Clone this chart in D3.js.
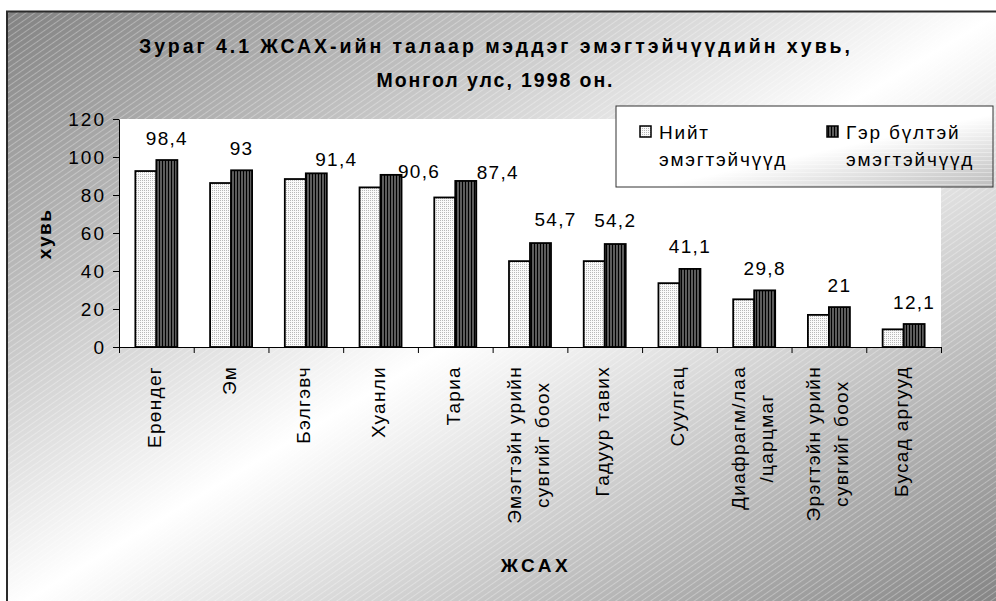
<!DOCTYPE html>
<html lang="mn">
<head>
<meta charset="utf-8">
<title>ЖСАХ-ийн талаар мэддэг эмэгтэйчүүд</title>
<script src="https://cdn.jsdelivr.net/npm/d3@7"></script>
<style>
  body { margin: 0; background: #fff; }
  svg { display: block; font-family: "Liberation Sans", Arial, sans-serif; }
</style>
</head>
<body>
<div id="chart"></div>
<script>
// data
const categories = [
  ['Ерөндег'], ['Эм'], ['Бэлгэвч'], ['Хуанли'], ['Тариа'],
  ['Эмэгтэйн урийн', 'сувгийг боох'], ['Гадуур тавих'], ['Суулгац'],
  ['Диафрагм/лаа', '/царцмаг'], ['Эрэгтэйн урийн', 'сувгийг боох'], ['Бусад аргууд']
];
const totalWomen = [92.6, 86.3, 88.4, 84.0, 78.7, 45.2, 45.2, 33.6, 25.1, 16.9, 9.3];
const marriedWomen = [98.4, 93, 91.4, 90.6, 87.4, 54.7, 54.2, 41.1, 29.8, 21, 12.1];
const seriesNames = [['Нийт', 'эмэгтэйчүүд'], ['Гэр бүлтэй', 'эмэгтэйчүүд']];
const yTicks = [0, 20, 40, 60, 80, 100, 120];
const titleLines = ['Зураг 4.1 ЖСАХ-ийн талаар мэддэг эмэгтэйчүүдийн хувь,', 'Монгол улс, 1998 он.'];
const yTitle = 'хувь';
const xTitle = 'ЖСАХ';

// hand-moved value labels in the original (dx, dy in px)
const labelNudge = [[0, 0], [0, 0], [20, 8], [28, 19], [32, 14], [15, -2], [0, -2], [0, 0], [0, 0], [0, 0], [0, 0]];

const fmt = (v) => String(v).replace('.', ',');

class GroupedBarChart {
  constructor (width, height, domContainer) {
    this.width = width;
    this.height = height;
    this.domContainer = domContainer;
    this.plot = { left: 119, right: 941, top: 119, bottom: 347 };
    this.barWidth = 21;
    this.fontSize = '19px';
    this._svg;
    this.x;
    this.y;
  }

  _buildContainer() {
    this._svg = d3.select(this.domContainer)
                  .append('svg')
                  .attr('width', this.width)
                  .attr('height', this.height);
  }

  _buildDefs() {
    const defs = this._svg.append('defs');

    const bg = defs.append('linearGradient')
                   .attr('id', 'bgGrad')
                   .attr('x1', 0).attr('y1', 0)
                   .attr('x2', 1).attr('y2', 1);
    bg.append('stop').attr('offset', 0).attr('stop-color', '#828282');
    bg.append('stop').attr('offset', 0.5).attr('stop-color', '#ffffff');
    bg.append('stop').attr('offset', 1).attr('stop-color', '#828282');

    const stripes = defs.append('pattern')
                        .attr('id', 'bgStripes')
                        .attr('patternUnits', 'userSpaceOnUse')
                        .attr('width', 5).attr('height', 5)
                        .attr('patternTransform', 'rotate(55)');
    stripes.append('line')
           .attr('x1', 0.5).attr('y1', 0)
           .attr('x2', 0.5).attr('y2', 5)
           .attr('stroke', '#fff')
           .attr('stroke-opacity', 0.3)
           .attr('stroke-width', 1);

    const lg = defs.append('linearGradient')
                   .attr('id', 'legendGrad')
                   .attr('x1', 0).attr('y1', 0)
                   .attr('x2', 1).attr('y2', 1);
    lg.append('stop').attr('offset', 0).attr('stop-color', '#ffffff');
    lg.append('stop').attr('offset', 0.55).attr('stop-color', '#ffffff');
    lg.append('stop').attr('offset', 1).attr('stop-color', '#bdbdbd');

    const hStripes = defs.append('pattern')
                         .attr('id', 'legendStripes')
                         .attr('patternUnits', 'userSpaceOnUse')
                         .attr('width', 6).attr('height', 4);
    hStripes.append('rect')
            .attr('width', 6).attr('height', 1)
            .attr('fill', '#fff')
            .attr('fill-opacity', 0.35);

    const dots = defs.append('pattern')
                     .attr('id', 'dots')
                     .attr('patternUnits', 'userSpaceOnUse')
                     .attr('width', 2).attr('height', 2);
    dots.append('rect').attr('width', 2).attr('height', 2).attr('fill', '#fafafa');
    dots.append('rect').attr('width', 1).attr('height', 1).attr('fill', '#b8b8b8');

    const vlines = defs.append('pattern')
                       .attr('id', 'vlines')
                       .attr('patternUnits', 'userSpaceOnUse')
                       .attr('width', 3).attr('height', 3);
    vlines.append('rect').attr('width', 3).attr('height', 3).attr('fill', '#5c5c5c');
    vlines.append('rect').attr('width', 1).attr('height', 3).attr('fill', '#000');
  }

  _buildFrame() {
    this._svg.append('rect')
             .attr('x', 7).attr('y', 11)
             .attr('width', this.width).attr('height', this.height)
             .attr('fill', 'url(#bgGrad)');
    this._svg.append('rect')
             .attr('x', 7).attr('y', 11)
             .attr('width', this.width).attr('height', this.height)
             .attr('fill', 'url(#bgStripes)');
    this._svg.append('path')
             .attr('d', `M7,${this.height} V11.5 H${this.width}`)
             .attr('fill', 'none')
             .attr('stroke', '#2b2b2b')
             .attr('stroke-width', 2);

    this._svg.append('rect')
             .attr('x', this.plot.left).attr('y', this.plot.top)
             .attr('width', this.plot.right - this.plot.left)
             .attr('height', this.plot.bottom - this.plot.top)
             .attr('fill', '#fff');
  }

  _buildScales() {
    const p = 1 - (2 * this.barWidth) / ((this.plot.right - this.plot.left) / categories.length);
    this.x = d3.scaleBand()
               .domain(d3.range(categories.length))
               .range([this.plot.left, this.plot.right])
               .paddingInner(p)
               .paddingOuter(p / 2);
    this.xSeries = d3.scaleBand()
                     .domain([0, 1])
                     .range([0, this.x.bandwidth()]);
    this.xEdges = d3.scaleLinear()
                    .domain([0, categories.length])
                    .range([this.plot.left, this.plot.right]);
    this.y = d3.scaleLinear()
               .domain([0, 120])
               .range([this.plot.bottom, this.plot.top]);
  }

  _buildTitle() {
    const t = this._svg.append('g')
                       .attr('font-weight', 'bold')
                       .attr('font-size', '19.5px')
                       .attr('fill', '#000');
    const lengths = [711, 236];
    const baselines = [53, 87];
    titleLines.forEach((line, i) => {
      t.append('text')
       .attr('x', 494.5 - lengths[i] / 2)
       .attr('y', baselines[i])
       .attr('textLength', lengths[i])
       .attr('lengthAdjust', 'spacing')
       .text(line);
    });
  }

  _buildAxes() {
    const yAxis = d3.axisLeft(this.y)
                    .tickValues(yTicks)
                    .tickSize(6)
                    .tickSizeOuter(0)
                    .tickPadding(7);
    const gy = this._svg.append('g')
                        .attr('transform', `translate(${this.plot.left},0)`)
                        .call(yAxis);
    gy.selectAll('text')
      .attr('font-family', '"Liberation Sans", Arial, sans-serif')
      .attr('font-size', this.fontSize)
      .attr('letter-spacing', '2px')
      .attr('fill', '#000');
    gy.selectAll('line, path').attr('stroke', '#000');

    const xAxis = d3.axisBottom(this.xEdges)
                    .tickValues(d3.range(categories.length + 1))
                    .tickSize(6)
                    .tickSizeOuter(0)
                    .tickFormat('');
    const gx = this._svg.append('g')
                        .attr('transform', `translate(0,${this.plot.bottom})`)
                        .call(xAxis);
    gx.selectAll('line, path').attr('stroke', '#000');

    // rotated category names, lines centred on each other, block hanging from y=366
    const labels = this._svg.append('g')
                            .attr('font-size', this.fontSize)
                            .attr('letter-spacing', '1.3px')
                            .attr('fill', '#000');
    categories.forEach((lines, i) => {
      const cx = this.x(i) + this.x.bandwidth() / 2 - 2;
      const g = labels.append('g')
                      .attr('transform', `translate(${cx},366) rotate(-90)`);
      const texts = lines.map((line, j) =>
        g.append('text')
         .attr('y', (j - (lines.length - 1) / 2) * 28)
         .attr('dy', '0.35em')
         .attr('text-anchor', 'middle')
         .text(line));
      const longest = d3.max(texts, (t) => t.node().getComputedTextLength());
      texts.forEach((t) => t.attr('x', -longest / 2));
    });

    this._svg.append('text')
             .attr('transform', `translate(44,234) rotate(-90)`)
             .attr('text-anchor', 'middle')
             .attr('dy', '0.35em')
             .attr('font-weight', 'bold')
             .attr('font-size', this.fontSize)
             .attr('letter-spacing', '1.5px')
             .text(yTitle);

    this._svg.append('text')
             .attr('x', 536)
             .attr('y', 572)
             .attr('text-anchor', 'middle')
             .attr('font-weight', 'bold')
             .attr('font-size', this.fontSize)
             .attr('letter-spacing', '3.5px')
             .text(xTitle);
  }

  _buildBars() {
    const series = [totalWomen, marriedWomen];
    const fills = ['url(#dots)', 'url(#vlines)'];
    series.forEach((values, s) => {
      this._svg.append('g')
               .selectAll('rect')
               .data(values)
               .join('rect')
               .attr('x', (d, i) => this.x(i) + this.xSeries(s))
               .attr('y', (d) => this.y(d))
               .attr('width', this.xSeries.bandwidth())
               .attr('height', (d) => this.y(0) - this.y(d))
               .attr('fill', fills[s])
               .attr('stroke', '#000')
               .attr('stroke-width', 1.8);
    });

    this._svg.append('g')
             .attr('font-size', this.fontSize)
             .attr('letter-spacing', '1.3px')
             .attr('text-anchor', 'middle')
             .selectAll('text')
             .data(marriedWomen)
             .join('text')
             .attr('x', (d, i) => this.x(i) + this.xSeries(1) + this.xSeries.bandwidth() / 2 + labelNudge[i][0])
             .attr('y', (d, i) => this.y(d) - 15.5 + labelNudge[i][1])
             .text(fmt);
  }

  _buildLegend() {
    const box = { x: 616, y: 106, w: 377, h: 81 };
    const g = this._svg.append('g');
    g.append('rect')
     .attr('x', box.x).attr('y', box.y)
     .attr('width', box.w).attr('height', box.h)
     .attr('fill', 'url(#legendGrad)');
    g.append('rect')
     .attr('x', box.x).attr('y', box.y)
     .attr('width', box.w).attr('height', box.h)
     .attr('fill', 'url(#legendStripes)')
     .attr('stroke', '#333')
     .attr('stroke-width', 1);

    const fills = ['url(#dots)', 'url(#vlines)'];
    const itemX = [640, 827];
    seriesNames.forEach((lines, s) => {
      g.append('rect')
       .attr('x', itemX[s]).attr('y', 126)
       .attr('width', 11).attr('height', 11)
       .attr('fill', fills[s])
       .attr('stroke', '#000')
       .attr('stroke-width', 1.5);
      lines.forEach((line, j) => {
        g.append('text')
         .attr('x', itemX[s] + 19)
         .attr('y', 139 + j * 27)
         .attr('font-size', this.fontSize)
         .attr('letter-spacing', '1.8px')
         .text(line);
      });
    });
  }

  init() {
    this._buildContainer();
    this._buildDefs();
    this._buildFrame();
    this._buildScales();
    this._buildTitle();
    this._buildAxes();
    this._buildBars();
    this._buildLegend();
  }
}

new GroupedBarChart(996, 601, '#chart').init();
</script>
</body>
</html>
